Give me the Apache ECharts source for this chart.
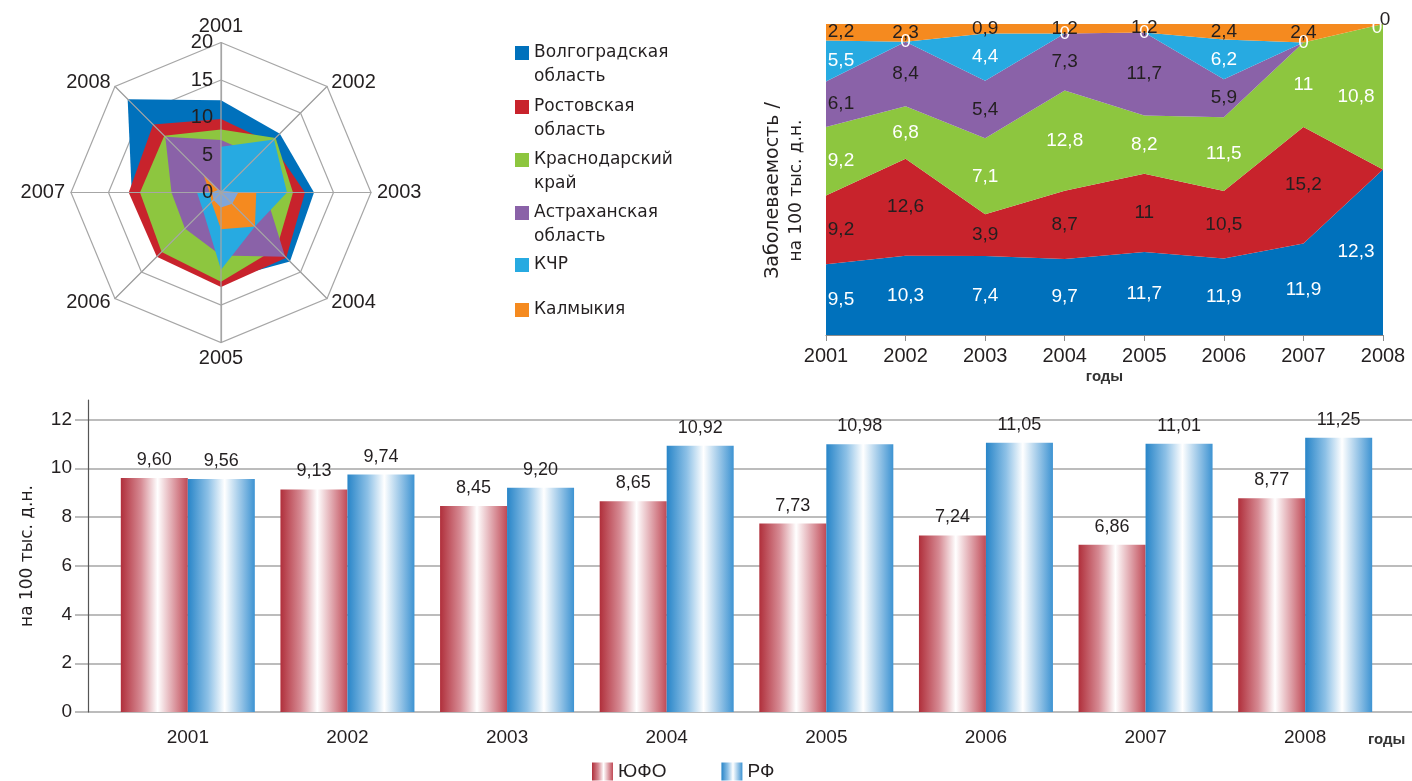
<!DOCTYPE html>
<html>
<head>
<meta charset="utf-8">
<script src="https://cdn.jsdelivr.net/npm/echarts@6/dist/echarts.min.js"></script>
<style>
  html, body { margin: 0; padding: 0; background: #ffffff; }
  #chart { width: 1412px; height: 781px; }
</style>
</head>
<body>
<div id="chart"></div>
<script>
// ---- data ----
const years = ['2001', '2002', '2003', '2004', '2005', '2006', '2007', '2008'];
const regions = ['Волгоградская область', 'Ростовская область', 'Краснодарский край',
                 'Астраханская область', 'КЧР', 'Калмыкия'];

// radar: values per year, 2001..2008
const radarVolgograd = [12.3, 11.1, 12.4, 13.0, 11.7, 11.6, 11.9, 17.6];
const radarRostov    = [9.8, 9.4, 11.2, 12.3, 12.6, 12.1, 12.3, 12.8];
const radarKrasnodar = [8.4, 10.3, 9.6, 10.5, 11.9, 11.2, 10.8, 10.7];
const radarAstrakhan = [7.0, 6.9, 5.9, 12.1, 8.4, 6.8, 6.6, 10.5];
const radarKchr      = [6.1, 10.0, 8.8, 6.4, 10.3, 3.4, 3.2, 0];
const radarKalmykia  = [0, 0, 4.7, 6.4, 4.9, 1.8, 1.5, 3.3];
const radarInner     = [0.2, 0.4, 2.3, 2.1, 2.0, 1.4, 1.2, 0.5];

// incidence per 100 thousand, by region (stacked as shares)
const incVolgograd = [9.5, 10.3, 7.4, 9.7, 11.7, 11.9, 11.9, 12.3];
const incRostov    = [9.2, 12.6, 3.9, 8.7, 11, 10.5, 15.2, 0];
const incKrasnodar = [9.2, 6.8, 7.1, 12.8, 8.2, 11.5, 11, 10.8];
const incAstrakhan = [6.1, 8.4, 5.4, 7.3, 11.7, 5.9, 0, 0];
const incKchr      = [5.5, 0, 4.4, 0, 0, 6.2, 0, 0];
const incKalmykia  = [2.2, 2.3, 0.9, 1.2, 1.2, 2.4, 2.4, 0];

// district vs country
const ufo = [9.60, 9.13, 8.45, 8.65, 7.73, 7.24, 6.86, 8.77];
const rf  = [9.56, 9.74, 9.20, 10.92, 10.98, 11.05, 11.01, 11.25];

// ---- styling ----
const FONT = "'Liberation Sans', 'DejaVu Sans', sans-serif";
const WIDE_FONT = "'DejaVu Sans', 'Liberation Sans', sans-serif";
const INK = '#231f20';
const GRAY = '#a6a6a6';
const regionColors = ['#0071bc', '#c8232c', '#8dc63f', '#8a62a8', '#27aae1', '#f58a1f'];
const innerColor = '#7fa6da';
const labelColors = ['#ffffff', INK, '#ffffff', INK, '#ffffff', INK];
const showZeroLabel = [false, false, false, false, true, true];
const zeroLastOffset = [[0, 0], [0, 0], [0, 0], [0, 0], [-6, 4], [2, -4]];

const fmt1 = v => String(v).replace('.', ',');
const fmt2 = v => v.toFixed(2).replace('.', ',');

const chart = echarts.init(document.getElementById('chart'), null, { renderer: 'canvas' });

// radar axes run clockwise from the top
const clockwiseOrder = [0, 7, 6, 5, 4, 3, 2, 1];
const radarSets = [radarVolgograd, radarRostov, radarKrasnodar, radarAstrakhan, radarKchr, radarKalmykia, radarInner];
const radarColors = regionColors.concat([innerColor]);

// shares of the yearly total, and mid-band positions for the value labels
const incSets = [incVolgograd, incRostov, incKrasnodar, incAstrakhan, incKchr, incKalmykia];
const totals = years.map((_, i) => incSets.reduce((s, a) => s + a[i], 0));
const shares = incSets.map(a => a.map((v, i) => v / totals[i] * 100));
const mids = incSets.map(() => []);
years.forEach((_, i) => {
  let cum = 0;
  shares.forEach((s, k) => { mids[k][i] = cum + s[i] / 2; cum += s[i]; });
});

const redGrad = new echarts.graphic.LinearGradient(0, 0, 1, 0, [
  { offset: 0, color: '#b02f3b' },
  { offset: 0.3, color: '#d68a93' },
  { offset: 0.55, color: '#ffffff' },
  { offset: 0.8, color: '#dc9aa2' },
  { offset: 1, color: '#c04a56' }
]);
const blueGrad = new echarts.graphic.LinearGradient(0, 0, 1, 0, [
  { offset: 0, color: '#2885c8' },
  { offset: 0.3, color: '#8cc0e6' },
  { offset: 0.55, color: '#ffffff' },
  { offset: 0.8, color: '#94c3e6' },
  { offset: 1, color: '#3d93d2' }
]);

// legend entries for the regions: one component per entry
const legendTops = [41, 95, 148, 201, 253, 298];
const topSquare = 'path://M0,0L14,0L14,14L0,14Z M0,38L0.01,38';
const regionLegends = regions.map((name, k) => {
  const twoLines = name.indexOf(' ') > 0;
  return {
    left: 515, top: legendTops[k], padding: 0, orient: 'vertical',
    selectedMode: false,
    itemWidth: 14, itemHeight: twoLines ? 38 : 14,
    data: [{ name: name, icon: twoLines ? topSquare : 'rect', itemStyle: { color: regionColors[k] } }],
    formatter: n => n.replace(' ', '\n'),
    textStyle: { fontFamily: WIDE_FONT, fontSize: 17, lineHeight: 24, color: INK }
  };
});

const series = [];

series.push({
  type: 'radar',
  radarIndex: 0,
  symbol: 'none',
  silent: true,
  z: 2,
  data: radarSets.map((arr, k) => ({
    name: k < regions.length ? regions[k] : '',
    value: clockwiseOrder.map(i => arr[i]),
    itemStyle: { color: radarColors[k] },
    lineStyle: { width: 0 },
    areaStyle: { color: radarColors[k], opacity: 1 }
  }))
});

incSets.forEach((arr, k) => {
  series.push({
    type: 'line', name: regions[k], xAxisIndex: 0, yAxisIndex: 0,
    stack: 'share', data: shares[k], symbol: 'none', silent: true,
    lineStyle: { width: 0 }, itemStyle: { color: regionColors[k] },
    areaStyle: { color: regionColors[k], opacity: 1 }, z: 2
  });
});

incSets.forEach((arr, k) => {
  const last = years.length - 1;
  series.push({
    type: 'line', name: '', xAxisIndex: 0, yAxisIndex: 0, silent: true,
    symbol: 'circle', symbolSize: 1, showSymbol: true,
    itemStyle: { color: 'rgba(0,0,0,0)' }, lineStyle: { width: 0, opacity: 0 },
    data: mids[k].map((m, i) => {
      const v = arr[i];
      let offset = [0, 0];
      if (i === 0) offset = [15, 0];
      if (i === last) offset = v > 0 ? [-27, 0] : zeroLastOffset[k];
      return { value: m, label: { show: v > 0 || showZeroLabel[k], offset: offset } };
    }),
    label: {
      position: 'inside', color: labelColors[k], fontFamily: FONT, fontSize: 19,
      formatter: p => fmt1(arr[p.dataIndex])
    },
    z: 5
  });
});

const barLabel = {
  show: true, position: 'top', distance: 9, color: INK, fontFamily: FONT, fontSize: 18,
  formatter: p => fmt2(p.value)
};
series.push({
  type: 'bar', name: 'ЮФО', xAxisIndex: 1, yAxisIndex: 1, data: ufo,
  barWidth: 67, barGap: '0%', itemStyle: { color: redGrad }, label: barLabel
});
series.push({
  type: 'bar', name: 'РФ', xAxisIndex: 1, yAxisIndex: 1, data: rf,
  barWidth: 67, barGap: '0%', itemStyle: { color: blueGrad }, label: barLabel
});

const option = {
  backgroundColor: '#ffffff',
  animation: false,
  textStyle: { fontFamily: FONT },
  radar: {
    center: [221, 192.5], radius: 150, startAngle: 90, shape: 'polygon', splitNumber: 4,
    indicator: clockwiseOrder.map(i => ({ name: years[i], min: 0, max: 20 })),
    axisName: { color: INK, fontFamily: FONT, fontSize: 20 },
    nameGap: 6,
    splitLine: { lineStyle: { color: GRAY, width: 1.2 } },
    splitArea: { show: false },
    axisLine: { lineStyle: { color: GRAY, width: 1.2 } },
    axisTick: { show: false },
    axisLabel: { show: false }
  },
  // spokes over the filled polygons, and the radial scale along the 2001 spoke
  polar: { center: [221, 192.5], radius: 150 },
  angleAxis: {
    type: 'value', min: 0, max: 360, interval: 45, startAngle: 90, z: 4,
    axisLine: { show: false }, axisTick: { show: false }, axisLabel: { show: false },
    splitLine: { show: true, lineStyle: { color: GRAY, width: 1.2 } }
  },
  radiusAxis: {
    type: 'value', min: 0, max: 20, interval: 5, z: 10,
    axisLine: { show: false }, axisTick: { show: false }, splitLine: { show: false },
    axisLabel: { color: INK, fontFamily: FONT, fontSize: 20, margin: 8 }
  },
  legend: regionLegends.concat([{
    left: 592, top: 762, padding: 0, selectedMode: false,
    itemWidth: 21, itemHeight: 18, itemGap: 55,
    data: [
      { name: 'ЮФО', icon: 'rect', itemStyle: { color: redGrad } },
      { name: 'РФ', icon: 'rect', itemStyle: { color: blueGrad } }
    ],
    textStyle: { fontFamily: FONT, fontSize: 19, color: INK }
  }]),
  grid: [
    { left: 826, right: 29, top: 24, bottom: 446 },
    { left: 108, right: 27, top: 400, bottom: 69 },
    { left: 75, right: 0, top: 419.5, bottom: 69 }
  ],
  xAxis: [
    {
      type: 'category', gridIndex: 0, data: years, boundaryGap: false,
      name: 'годы', nameLocation: 'middle', nameGap: 34,
      nameTextStyle: { fontFamily: FONT, fontSize: 15, fontWeight: 'bold', color: '#333' },
      axisLine: { lineStyle: { color: '#8c8c8c', width: 1.2 } },
      axisTick: { show: true, length: 6, lineStyle: { color: '#8c8c8c' } },
      axisLabel: { color: INK, fontFamily: FONT, fontSize: 20, margin: 11 }
    },
    {
      type: 'category', gridIndex: 1, data: years,
      name: 'годы', nameLocation: 'end', nameGap: -17,
      nameTextStyle: { fontFamily: FONT, fontSize: 15, fontWeight: 'bold', color: '#333',
                       verticalAlign: 'top', padding: [20, 0, 0, 0] },
      axisLine: { show: false }, axisTick: { show: false },
      axisLabel: { color: INK, fontFamily: FONT, fontSize: 19, margin: 16 }
    },
    { type: 'value', gridIndex: 2, min: 0, max: 1, show: false }
  ],
  yAxis: [
    {
      type: 'value', gridIndex: 0, min: 0, max: 100, interval: 100,
      name: '{a|Заболеваемость /}\n{b|на 100 тыс. д.н.}', nameLocation: 'middle', nameGap: 18,
      nameRotate: 90,
      nameTextStyle: {
        color: INK, padding: [0, 22, 0, 0],
        rich: {
          a: { fontFamily: WIDE_FONT, fontSize: 19, lineHeight: 23, color: INK },
          b: { fontFamily: WIDE_FONT, fontSize: 17, lineHeight: 23, color: INK }
        }
      },
      axisLine: { show: false }, axisTick: { show: false }, axisLabel: { show: false },
      splitLine: { show: true, lineStyle: { color: GRAY, width: 1.2 } }
    },
    {
      type: 'value', gridIndex: 1, min: 0, max: 12.8, interval: 2, offset: 20,
      name: 'на 100 тыс. д.н.', nameLocation: 'middle', nameGap: 52,
      nameTextStyle: { fontFamily: WIDE_FONT, fontSize: 17, color: INK },
      axisLine: { show: true, lineStyle: { color: '#555', width: 1.2 } },
      axisTick: { show: false }, splitLine: { show: false },
      axisLabel: { color: INK, fontFamily: FONT, fontSize: 19, margin: 16, showMaxLabel: false,
                   formatter: v => (v % 2 === 0 ? String(v) : '') }
    },
    {
      type: 'value', gridIndex: 2, min: 0, max: 12, interval: 2,
      axisLine: { show: false }, axisTick: { show: false }, axisLabel: { show: false },
      splitLine: { show: true, lineStyle: { color: GRAY, width: 1.5 } }
    }
  ],
  series: series
};

chart.setOption(option);
</script>
</body>
</html>
